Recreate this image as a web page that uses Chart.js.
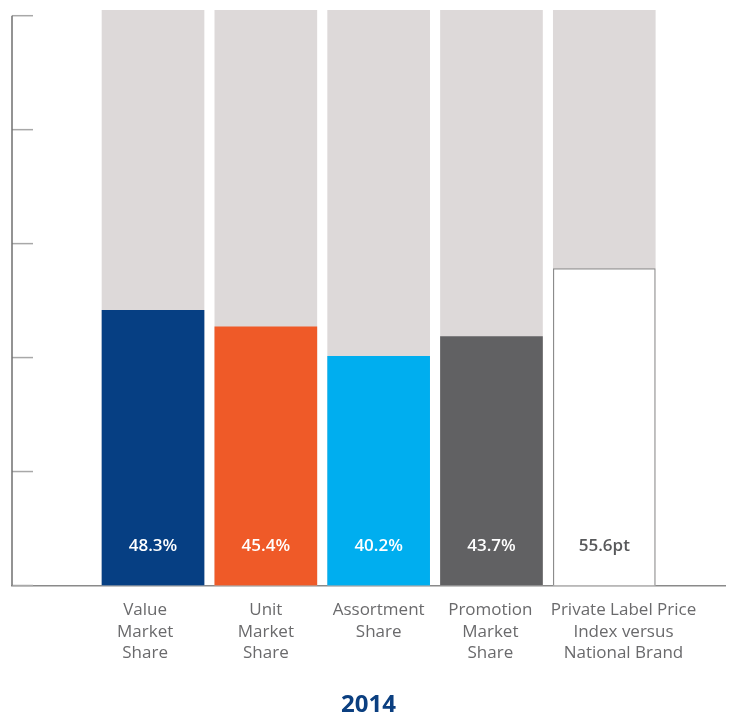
<!DOCTYPE html>
<html>
<head>
<meta charset="utf-8">
<script src="https://cdn.jsdelivr.net/npm/chart.js@4/dist/chart.umd.min.js"></script>
<style>
  html, body { margin: 0; padding: 0; background: #fff; }
  #wrap { width: 730px; height: 717px; }
</style>
</head>
<body>
<div id="wrap"><canvas id="shareChart"></canvas></div>
<script>
// ===== Data =====
const categories = [
  ['Value', 'Market', 'Share'],
  ['Unit', 'Market', 'Share'],
  ['Assortment', 'Share'],
  ['Promotion', 'Market', 'Share'],
  ['Private Label Price', 'Index versus', 'National Brand']
];
const values = [48.3, 45.4, 40.2, 43.7, 55.6];
const valueLabels = ['48.3%', '45.4%', '40.2%', '43.7%', '55.6pt'];
const trackValue = 101;
const yTicks = [0, 20, 40, 60, 80, 100];

const barColors = ['#063f83', '#ef5a28', '#00aeef', '#616163', '#ffffff'];
const labelColors = ['#ffffff', '#ffffff', '#ffffff', '#ffffff', '#58595b'];

// category labels sit a little off-centre in the original
const labelNudge = [-0.07, 0, 0, -0.01, 0.17];

// ===== y axis line + inner ticks, value labels =====
const decorPlugin = {
  id: 'decor',
  afterDatasetsDraw(chart) {
    const { ctx, chartArea, scales } = chart;
    const y = scales.y;
    const left = chartArea.left;

    ctx.save();
    // tick marks (inside)
    ctx.strokeStyle = '#a8a8a8';
    ctx.lineWidth = 1.5;
    yTicks.forEach(t => {
      const py = y.getPixelForValue(t);
      ctx.beginPath();
      ctx.moveTo(left, py);
      ctx.lineTo(left + 21, py);
      ctx.stroke();
    });
    // vertical axis
    ctx.strokeStyle = '#6f6f6f';
    ctx.lineWidth = 1.5;
    ctx.beginPath();
    ctx.moveTo(left, y.getPixelForValue(100));
    ctx.lineTo(left, y.getPixelForValue(0));
    ctx.stroke();

    // value labels near the bottom of each bar
    const meta = chart.getDatasetMeta(0);
    ctx.font = '600 17px "Open Sans"';
    ctx.textAlign = 'center';
    ctx.textBaseline = 'middle';
    meta.data.forEach((bar, i) => {
      ctx.fillStyle = labelColors[i];
      ctx.fillText(valueLabels[i], bar.x, y.getPixelForValue(0) - 39);
    });
    ctx.restore();
  }
};

// ===== Chart =====
const ctx = document.getElementById('shareChart').getContext('2d');
new Chart(ctx, {
  type: 'bar',
  data: {
    datasets: [
      {
        data: values.map((v, i) => ({ x: i, y: v })),
        backgroundColor: barColors,
        borderColor: '#8c8c8c',
        borderWidth: [0, 0, 0, 0, 1.2],
        barThickness: 102,
        grouped: false,
        order: 0
      },
      {
        data: values.map((v, i) => ({ x: i, y: trackValue })),
        backgroundColor: '#ddd9d9',
        borderWidth: 0,
        barThickness: 102,
        grouped: false,
        order: 1
      }
    ]
  },
  options: {
    responsive: true,
    maintainAspectRatio: false,
    animation: false,
    layout: { padding: { left: 12, right: 5, top: 10, bottom: 0 } },
    plugins: {
      legend: { display: false },
      tooltip: { enabled: false },
      title: {
        display: true,
        position: 'bottom',
        text: '2014',
        color: '#0b3f80',
        font: { family: '"Open Sans"', size: 24, weight: 'bold', lineHeight: 1 },
        padding: { top: 15, bottom: 0 }
      }
    },
    scales: {
      x: {
        type: 'linear',
        offset: false,
        bounds: 'data',
        min: -1.25,
        max: 5.07,
        grid: { display: false, drawTicks: false, offset: false },
        border: { display: true, color: '#8a8a8a', width: 1.5 },
        afterBuildTicks: axis => {
          axis.ticks = categories.map((c, i) => ({ value: i + labelNudge[i] }));
        },
        ticks: {
          autoSkip: false,
          maxRotation: 0,
          padding: 14,
          color: '#6a6a6c',
          font: { family: '"Open Sans"', size: 17, lineHeight: '21.5px' },
          callback: (value, index) => categories[index]
        }
      },
      y: {
        display: false,
        min: 0,
        max: trackValue
      }
    }
  },
  plugins: [decorPlugin]
});
</script>
</body>
</html>
